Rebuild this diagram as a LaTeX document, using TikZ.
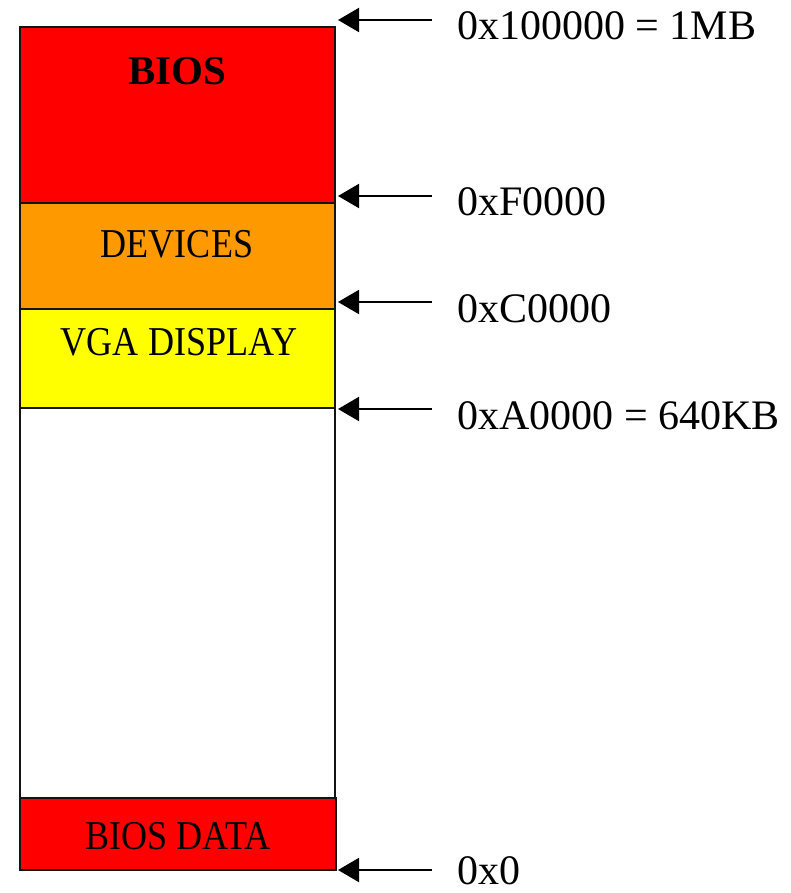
\documentclass[tikz,border=0pt]{standalone}
\usepackage{fontspec}
\setmainfont{Liberation Serif}
\newfontfamily\boxfont[FakeStretch=0.88]{Liberation Serif}
\usepackage{tikz}
\usetikzlibrary{arrows.meta,positioning,calc}
\definecolor{memRed}{RGB}{255,0,0}
\definecolor{memOrange}{RGB}{255,153,0}
\definecolor{memYellow}{RGB}{255,255,0}
\definecolor{memInk}{RGB}{20,20,20}

\begin{document}
\begin{tikzpicture}[x=1pt,y=-1pt,
    region/.style={draw=memInk,line width=1.5pt},
    regtext/.style={font=\boxfont\fontsize{41}{41}\selectfont,anchor=base,inner sep=0pt},
    addr/.style={font=\fontsize{42}{42}\selectfont,anchor=base west,inner sep=0pt},
    ptr/.style={line width=2pt,-{Triangle[length=21pt,width=24pt]}}]
  \useasboundingbox (0,0) rectangle (790,893);
  % address marker: name, y of the boundary, baseline offset, text
  \newcommand{\memmark}[4]{%
    \coordinate (#1tail) at (432,#2);
    \coordinate (#1tip) at (338,#2);
    \node[addr] (#1) at (457,#2+#3) {#4};
    \draw[ptr] (#1tail) -- (#1tip);}
  % regions, top to bottom
  \draw[region,fill=memRed] (20,27) rectangle (335,203);
  \draw[region,fill=memOrange] (20,203) rectangle (335,309);
  \draw[region,fill=memYellow] (20,309) rectangle (335,408);
  \draw[region,fill=white] (20,408) rectangle (335,798);
  \draw[region,fill=memRed] (20,798) rectangle (336,870);
  \node[regtext,font=\bfseries\fontsize{41}{41}\selectfont] (bios) at (177,85) {BIOS};
  \node[regtext] (devices) at (177,257) {DEVICES};
  \node[regtext] (vga) at (179,355) {VGA DISPLAY};
  \node[regtext] (biosdata) at (178,849) {BIOS DATA};
  % boundaries
  \memmark{top}{20}{20}{0x100000 = 1MB}
  \memmark{fseg}{196}{20}{0xF0000}
  \memmark{cseg}{302}{20}{0xC0000}
  \memmark{aseg}{409}{20}{0xA0000 = 640KB}
  \memmark{zero}{870}{14}{0x0}
\end{tikzpicture}
\end{document}
